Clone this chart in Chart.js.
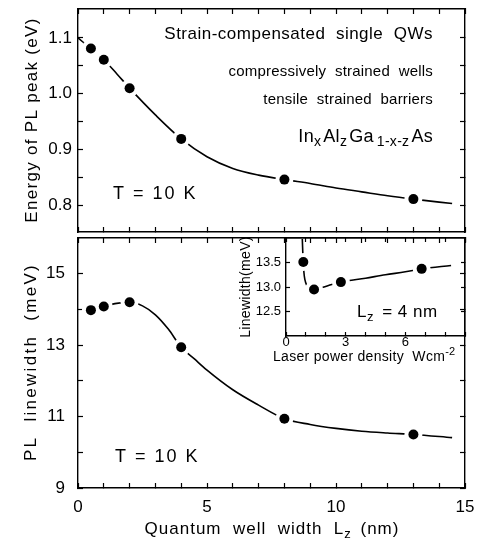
<!DOCTYPE html>
<html>
<head>
<meta charset="utf-8">
<script src="https://cdn.jsdelivr.net/npm/chart.js@4"></script>
<style>
  html, body { margin: 0; padding: 0; background: #fff; }
  #wrap { position: relative; width: 486px; height: 542px; }
  #wrap canvas { position: absolute; left: 0; top: 0; }
</style>
</head>
<body>
<div id="wrap">
  <canvas id="topChart" width="486" height="542"></canvas>
  <canvas id="bottomChart" width="486" height="542"></canvas>
  <canvas id="insetChart" width="486" height="542"></canvas>
</div>
<script>
// measured points (T = 10 K)
const wellWidth = [0.5, 1, 2, 4, 8, 13];
const peakEnergy = [1.081, 1.061, 1.010, 0.919, 0.846, 0.811];
const lineWidth = [13.98, 14.08, 14.20, 12.94, 10.94, 10.50];

// guide-to-the-eye curves
const energyCurveX = [0, 0.5, 1, 1.5, 2, 3, 4, 5, 6, 7, 8, 9, 10, 11, 12, 13, 14.5];
const energyCurveY = [1.100, 1.081, 1.061, 1.036, 1.010, 0.962, 0.919, 0.887, 0.866, 0.854, 0.846, 0.839, 0.831, 0.824, 0.817, 0.811, 0.803];
const widthCurveX = [0.5, 1, 1.5, 2, 2.5, 3, 3.5, 4, 4.5, 5, 6, 7, 8, 9, 10, 11, 12, 13, 14.5];
const widthCurveY = [13.98, 14.08, 14.17, 14.20, 14.10, 13.85, 13.45, 12.94, 12.62, 12.30, 11.75, 11.32, 10.94, 10.78, 10.67, 10.59, 10.54, 10.50, 10.41];

// inset: Lz = 4 nm, linewidth vs laser power density
const laserPower = [0.87, 1.41, 2.76, 6.82];
const insetWidth = [13.51, 12.95, 13.10, 13.37];
const insetCurveX = [0.82, 0.84, 0.87, 0.9, 0.95, 1.05, 1.2, 1.41, 1.8, 2.3, 2.76, 4, 5, 6, 6.82, 8.3];
const insetCurveY = [13.98, 13.75, 13.51, 13.3, 13.15, 13.03, 12.97, 12.95, 12.99, 13.05, 13.10, 13.18, 13.25, 13.31, 13.37, 13.44];

// ticks and labels
const wellTicks = [0, 1, 2, 3, 4, 5, 6, 7, 8, 9, 10, 11, 12, 13, 14, 15];
const wellLabels = [0, 5, 10, 15];
const energyTicks = [0.8, 0.85, 0.9, 0.95, 1.0, 1.05, 1.1];
const energyLabels = [0.8, 0.9, 1.0, 1.1];
const widthTicks = [9, 10, 11, 12, 13, 14, 15];
const widthLabels = [9, 11, 13, 15];
const powerTicks = [0, 1, 2, 3, 4, 5, 6, 7, 8, 9];
const powerLabels = [0, 3, 6];
const insetTicks = [12.5, 13.0, 13.5];
const insetLabels = [12.5, 13.0, 13.5];

const FONT = "'Liberation Sans', Arial, Helvetica, sans-serif";

function toPoints(xs, ys) {
  return xs.map((x, i) => ({ x: x, y: ys[i] }));
}

// one side of the box frame, ticks pointing inwards
function frameAxis(o) {
  const horiz = o.position === 'top' || o.position === 'bottom';
  return {
    type: 'linear',
    axis: horiz ? 'x' : 'y',
    position: o.position,
    min: o.min,
    max: o.max,
    afterBuildTicks: s => { s.ticks = o.ticks.map(v => ({ value: v })); },
    afterFit: s => {
      if (horiz) s.height = o.fit; else s.width = o.fit;
      s.paddingTop = 0; s.paddingBottom = 0; s.paddingLeft = 0; s.paddingRight = 0;
    },
    grid: { display: true, drawOnChartArea: false, drawTicks: true, tickLength: -o.tickLen, tickWidth: 1.2, tickColor: '#000' },
    border: { display: true, color: '#000', width: 1.4 },
    ticks: {
      display: !!o.labels,
      autoSkip: false,
      maxRotation: 0,
      minRotation: 0,
      padding: o.pad || 0,
      color: '#000',
      font: { family: FONT, size: o.size || 17 },
      callback: v => (o.labels && o.labels.some(l => Math.abs(l - v) < 1e-9)) ? v.toFixed(o.digits || 0) : ''
    }
  };
}

// text with sub/superscripts and letter spacing
const richText = {
  id: 'richText',
  afterDraw(chart, args, opts) {
    const ctx = chart.ctx;
    (opts.items || []).forEach(item => {
      let x = item.x, y = item.y;
      if (item.data) {
        x = chart.scales.x.getPixelForValue(item.x);
        y = chart.scales.y.getPixelForValue(item.y);
      }
      ctx.save();
      ctx.fillStyle = '#000';
      ctx.textBaseline = 'alphabetic';
      ctx.textAlign = 'left';
      ctx.letterSpacing = (item.spacing || 0) + 'px';
      const runs = item.parts.map(p => {
        const size = p.size || item.size;
        ctx.font = size + 'px ' + FONT;
        return { t: p.t, font: ctx.font, dy: p.dy || 0, w: ctx.measureText(p.t).width + (p.gap || 0) };
      });
      const total = runs.reduce((a, r) => a + r.w, 0);
      ctx.translate(x, y);
      if (item.rotate) ctx.rotate(-Math.PI / 2);
      let cx = item.align === 'right' ? -total : item.align === 'center' ? -total / 2 : 0;
      const base = item.size * 0.36;
      runs.forEach(r => {
        ctx.font = r.font;
        ctx.fillText(r.t, cx, base + r.dy);
        cx += r.w;
      });
      ctx.restore();
    });
  }
};

// black dots on top, a white halo under them that breaks the curve, curve at the bottom
const pointStyle = {
  showLine: false,
  order: 0,
  pointRadius: 5,
  pointBorderWidth: 0,
  pointBackgroundColor: '#000',
  pointBorderColor: '#000'
};
const haloStyle = {
  showLine: false,
  order: 1,
  pointRadius: 9,
  pointBorderWidth: 0,
  pointBackgroundColor: '#fff',
  pointBorderColor: '#fff'
};
const curveStyle = {
  showLine: true,
  order: 2,
  pointRadius: 0,
  borderColor: '#000',
  borderWidth: 1.6,
  cubicInterpolationMode: 'monotone'
};
const baseOptions = {
  responsive: false,
  animation: false,
  events: []
};

function markSets(xs, ys, cx, cy) {
  return [
    Object.assign({ data: toPoints(xs, ys) }, pointStyle),
    Object.assign({ data: toPoints(xs, ys) }, haloStyle),
    Object.assign({ data: toPoints(cx, cy) }, curveStyle)
  ];
}

// upper panel: PL peak energy
new Chart(document.getElementById('topChart'), {
  type: 'scatter',
  data: { datasets: markSets(wellWidth, peakEnergy, energyCurveX, energyCurveY) },
  options: Object.assign({}, baseOptions, {
    layout: { padding: { left: 0, top: 7, right: 21, bottom: 310 } },
    plugins: {
      legend: { display: false },
      tooltip: { enabled: false },
      richText: {
        items: [
          { data: true, x: 13.76, y: 1.109, align: 'right', size: 17, spacing: 0.5, parts: [{ t: 'Strain-compensated  single  QWs' }] },
          { data: true, x: 13.76, y: 1.042, align: 'right', size: 15, spacing: 0.2, parts: [{ t: 'compressively  strained  wells' }] },
          { data: true, x: 13.76, y: 0.992, align: 'right', size: 15, spacing: 0.2, parts: [{ t: 'tensile  strained  barriers' }] },
          { data: true, x: 13.76, y: 0.925, align: 'right', size: 18, spacing: 0.3, parts: [
            { t: 'In' }, { t: 'x', size: 14, dy: 4, gap: 2 }, { t: 'Al' }, { t: 'z', size: 14, dy: 4, gap: 2 },
            { t: 'Ga', gap: 3 }, { t: '1-x-z', size: 14, dy: 4, gap: 2 }, { t: 'As' }
          ] },
          { data: true, x: 1.36, y: 0.823, align: 'left', size: 18, spacing: 2, parts: [{ t: 'T = 10 K' }] },
          { x: 31, y: 120, rotate: true, align: 'center', size: 17, spacing: 1.3, parts: [{ t: 'Energy of PL peak (eV)' }] }
        ]
      }
    },
    scales: {
      x: frameAxis({ position: 'bottom', min: 0, max: 15, ticks: wellTicks, fit: 0, tickLen: 5 }),
      xTop: frameAxis({ position: 'top', min: 0, max: 15, ticks: wellTicks, fit: 0, tickLen: 5 }),
      y: frameAxis({ position: 'left', min: 0.752, max: 1.152, ticks: energyTicks, labels: energyLabels, digits: 1, fit: 78, tickLen: 5, pad: 11 }),
      yRight: frameAxis({ position: 'right', min: 0.752, max: 1.152, ticks: energyTicks, fit: 0, tickLen: 5 })
    }
  }),
  plugins: [richText]
});

// lower panel: PL linewidth
new Chart(document.getElementById('bottomChart'), {
  type: 'scatter',
  data: { datasets: markSets(wellWidth, lineWidth, widthCurveX, widthCurveY) },
  options: Object.assign({}, baseOptions, {
    layout: { padding: { left: 0, top: 238, right: 21, bottom: 0 } },
    plugins: {
      legend: { display: false },
      tooltip: { enabled: false },
      richText: {
        items: [
          { data: true, x: 1.43, y: 9.9, align: 'left', size: 18, spacing: 2, parts: [{ t: 'T = 10 K' }] },
          { x: 30, y: 362, rotate: true, align: 'center', size: 17, spacing: 2.3, parts: [{ t: 'PL  linewidth  (meV)' }] },
          { x: 272, y: 528, align: 'center', size: 17, spacing: 1, parts: [
            { t: 'Quantum  well  width  L' }, { t: 'z', size: 13, dy: 4, gap: 3 }, { t: ' (nm)' }
          ] }
        ]
      }
    },
    scales: {
      x: frameAxis({ position: 'bottom', min: 0, max: 15, ticks: wellTicks, labels: wellLabels, fit: 54, tickLen: 5, pad: 14 }),
      xTop: frameAxis({ position: 'top', min: 0, max: 15, ticks: wellTicks, fit: 0, tickLen: 5 }),
      y: frameAxis({ position: 'left', min: 9, max: 16, ticks: widthTicks, labels: widthLabels, fit: 78, tickLen: 5, pad: 18 }),
      yRight: frameAxis({ position: 'right', min: 9, max: 16, ticks: widthTicks, fit: 0, tickLen: 5 })
    }
  }),
  plugins: [richText]
});

// inset: Lz = 4 nm
new Chart(document.getElementById('insetChart'), {
  type: 'scatter',
  data: { datasets: markSets(laserPower, insetWidth, insetCurveX, insetCurveY) },
  options: Object.assign({}, baseOptions, {
    layout: { padding: { left: 226, top: 238, right: 21, bottom: 176 } },
    plugins: {
      legend: { display: false },
      tooltip: { enabled: false },
      richText: {
        items: [
          { data: true, x: 3.57, y: 12.51, align: 'left', size: 17, spacing: 0.5, parts: [
            { t: 'L' }, { t: 'z', size: 13, dy: 4, gap: 3 }, { t: ' = 4 nm' }
          ] },
          { x: 245, y: 287, rotate: true, align: 'center', size: 14, spacing: 0.3, parts: [{ t: 'Linewidth(meV)' }] },
          { x: 273, y: 356, align: 'left', size: 14, spacing: 0.3, parts: [
            { t: 'Laser power density  Wcm' }, { t: '-2', size: 11, dy: -6 }
          ] }
        ]
      }
    },
    scales: {
      x: frameAxis({ position: 'bottom', min: 0, max: 9, ticks: powerTicks, labels: powerLabels, fit: 30, tickLen: 4, pad: 3, size: 13 }),
      xTop: frameAxis({ position: 'top', min: 0, max: 9, ticks: powerTicks, fit: 0, tickLen: 4 }),
      y: frameAxis({ position: 'left', min: 12, max: 14, ticks: insetTicks, labels: insetLabels, digits: 1, fit: 60, tickLen: 4, pad: 9, size: 13 }),
      yRight: frameAxis({ position: 'right', min: 12, max: 14, ticks: insetTicks, fit: 0, tickLen: 4 })
    }
  }),
  plugins: [richText]
});
</script>
</body>
</html>
